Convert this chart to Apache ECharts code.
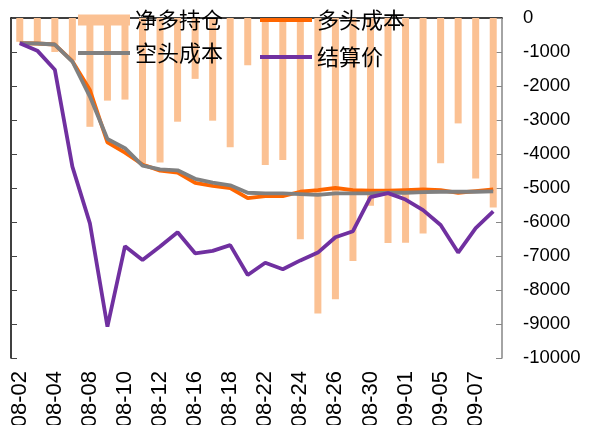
<!DOCTYPE html>
<html><head><meta charset="utf-8">
<script src="https://cdn.jsdelivr.net/npm/echarts@6/dist/echarts.min.js"></script>
<style>html,body{margin:0;padding:0;background:#fff}#c{width:592px;height:425px}</style>
</head><body><div id="c"></div>
<script>
const categories = ['08-02','08-03','08-04','08-05','08-08','08-09','08-10','08-11','08-12','08-15','08-16','08-17','08-18','08-19','08-22','08-23','08-24','08-25','08-26','08-29','08-30','08-31','09-01','09-02','09-05','09-06','09-07','09-08'];
const netLong = [-700,-700,-1000,-1250,-3200,-2430,-2400,-4270,-4250,-3050,-1790,-3020,-3800,-1390,-4320,-4180,-6510,-8690,-8270,-7150,-5520,-6620,-6610,-6340,-4270,-3100,-4720,-5570];
const longCost = [-740,-750,-780,-1270,-2120,-3660,-3960,-4310,-4490,-4550,-4850,-4940,-5000,-5300,-5240,-5240,-5110,-5060,-5000,-5060,-5080,-5080,-5060,-5040,-5060,-5140,-5090,-5040];
const shortCost = [-740,-750,-780,-1280,-2310,-3560,-3830,-4340,-4450,-4480,-4730,-4840,-4920,-5140,-5160,-5160,-5180,-5200,-5160,-5160,-5160,-5140,-5140,-5120,-5110,-5110,-5110,-5100];
const settle = [-740,-960,-1520,-4370,-6040,-9080,-6710,-7120,-6720,-6300,-6920,-6850,-6680,-7560,-7200,-7390,-7130,-6900,-6450,-6270,-5270,-5150,-5340,-5650,-6090,-6900,-6180,-5690];
const names = ['净多持仓','多头成本','空头成本','结算价'];

const chart = echarts.init(document.getElementById('c'), null, {renderer:'canvas'});
const legendText = {fontFamily:'Noto Sans CJK SC', fontSize:22, color:'#000', lineHeight:22, padding:[4,0,0,0]};
const LW = 3.8;
chart.setOption({
  animation:false,
  backgroundColor:'#fff',
  grid:{left:11, right:90, top:18, bottom:67, containLabel:false, outerBoundsMode:'none'},
  legend:[
    {orient:'vertical', left:78, top:7, padding:0, itemWidth:52, itemHeight:11, itemGap:10,
     data:[{name:names[0], icon:'rect'}], textStyle:legendText},
    {orient:'vertical', left:78, top:40, padding:0, itemWidth:52, itemHeight:LW, itemGap:10,
     data:[{name:names[2], icon:'rect'}], textStyle:legendText},
    {orient:'vertical', left:260, top:7, padding:0, itemWidth:52, itemHeight:LW, itemGap:11,
     data:[{name:names[1], icon:'rect'}, {name:names[3], icon:'rect'}], textStyle:legendText}
  ],
  xAxis:{type:'category', data:categories, boundaryGap:true,
    axisLine:{lineStyle:{color:'#000', width:1.5}},
    axisTick:{inside:true, length:6, interval:1, lineStyle:{color:'#000'}},
    axisLabel:{interval:1, rotate:90, margin:13, fontFamily:'Liberation Sans', fontSize:22, color:'#000'}
  },
  yAxis:[
    {type:'value', min:-10000, max:0, interval:1000, position:'left',
     axisLine:{show:true, lineStyle:{color:'#000', width:1.5}},
     axisTick:{show:true, inside:true, length:6, lineStyle:{color:'#444'}},
     axisLabel:{show:false}, splitLine:{show:false}},
    {type:'value', min:-10000, max:0, interval:1000, position:'right',
     axisLine:{show:true, lineStyle:{color:'#868686', width:1.5}},
     axisTick:{show:true, inside:true, length:6, lineStyle:{color:'#868686'}},
     axisLabel:{margin:21, fontFamily:'Liberation Sans', fontSize:18.5, color:'#000', formatter:function(v){return String(v);}},
     splitLine:{show:false}}
  ],
  series:[
    {name:names[0], type:'bar', data:netLong, yAxisIndex:1, barWidth:7, itemStyle:{color:'#FBC193'}},
    {name:names[1], type:'line', data:longCost, yAxisIndex:1, symbol:'none', lineStyle:{color:'#FF6600', width:LW}, itemStyle:{color:'#FF6600'}},
    {name:names[2], type:'line', data:shortCost, yAxisIndex:1, symbol:'none', lineStyle:{color:'#808080', width:LW}, itemStyle:{color:'#808080'}},
    {name:names[3], type:'line', data:settle, yAxisIndex:1, symbol:'none', lineStyle:{color:'#7030A0', width:LW}, itemStyle:{color:'#7030A0'}}
  ]
});
</script></body></html>
